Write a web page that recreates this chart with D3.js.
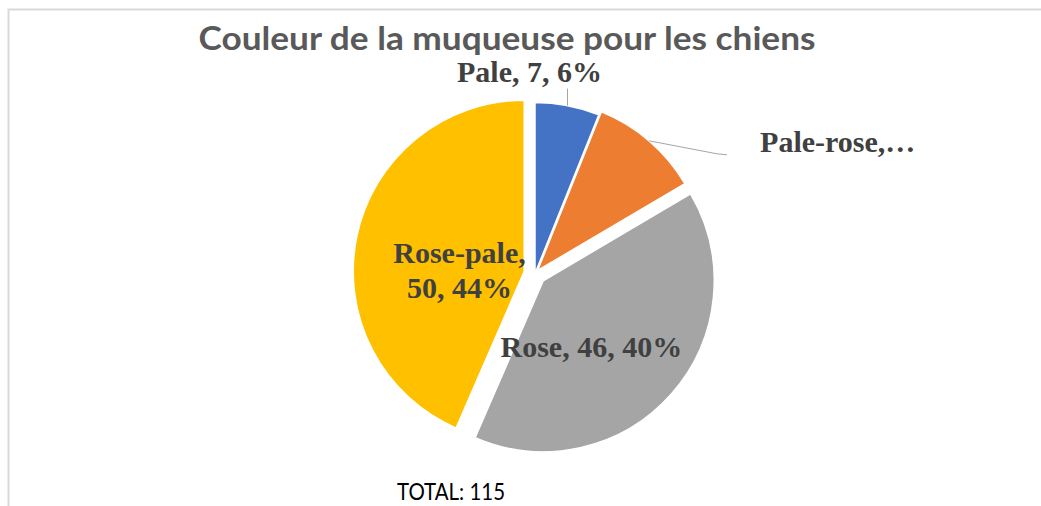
<!DOCTYPE html>
<html>
<head>
<meta charset="utf-8">
<script src="https://cdnjs.cloudflare.com/ajax/libs/d3/7.8.5/d3.min.js"></script>
<style>
    body { margin: 0; background: #fff; }
    #chart { width: 1041px; height: 506px; }
</style>
</head>
<body>
<div id="chart"></div>
<script>

// data
const categories = ["Pale", "Pale-rose", "Rose", "Rose-pale"];
const counts = [7, 12, 46, 50];
const colors = ["#4472C4", "#ED7D31", "#A5A5A5", "#FFC000"];
const chartTitle = "Couleur de la muqueuse pour les chiens";
const totalLabel = "TOTAL: 115";


class PieChart {

    constructor(parentElement) {
        this.parentElement = parentElement;
        this.initVis();
    }

    initVis() {
        let vis = this;

        vis.width = 1041;
        vis.height = 506;

        vis.svg = d3.select("#" + vis.parentElement).append("svg")
            .attr("width", vis.width)
            .attr("height", vis.height);

        // light frame of the chart area (cut at right / bottom)
        vis.svg.append("path")
            .attr("d", "M8.5,506 V9.5 H1041")
            .attr("fill", "none")
            .attr("stroke", "#d9d9d9")
            .attr("stroke-width", 2);

        vis.svg.append("text")
            .attr("x", 507)
            .attr("y", 50)
            .attr("text-anchor", "middle")
            .attr("textLength", 617)
            .attr("lengthAdjust", "spacingAndGlyphs")
            .style("font-family", "Lato, 'Open Sans', sans-serif")
            .style("font-weight", "bold")
            .style("font-size", "32px")
            .style("fill", "#595959")
            .text(chartTitle);

        vis.svg.append("text")
            .attr("x", 451)
            .attr("y", 500)
            .attr("text-anchor", "middle")
            .attr("textLength", 108)
            .attr("lengthAdjust", "spacingAndGlyphs")
            .style("font-family", "Lato, sans-serif")
            .style("font-size", "24px")
            .style("fill", "#000")
            .text(totalLabel);

        vis.cx = 535;
        vis.cy = 273.5;
        vis.radius = 171;
        // how far each slice is pulled out of the pie
        vis.explode = [0, 4, 11, 11];

        vis.wrangleData();
    }

    wrangleData() {
        let vis = this;
        let total = d3.sum(counts);

        // percentages rounded so they add up to 100 (largest remainder, like Excel)
        let raw = counts.map(v => v / total * 100);
        let pcts = raw.map(Math.floor);
        let left = 100 - d3.sum(pcts);
        d3.range(raw.length)
            .sort((a, b) => (raw[b] - pcts[b]) - (raw[a] - pcts[a]))
            .slice(0, left)
            .forEach(i => pcts[i] += 1);

        vis.displayData = categories.map((c, i) => ({
            name: c,
            value: counts[i],
            pct: pcts[i] + "%"
        }));
        vis.updateVis();
    }

    updateVis() {
        let vis = this;

        let pie = d3.pie().sort(null).value(d => d.value);
        let arcs = pie(vis.displayData);

        let arc = d3.arc().innerRadius(0).outerRadius(vis.radius);

        let offset = (d, i) => {
            let a = (d.startAngle + d.endAngle) / 2;
            return [Math.sin(a) * vis.explode[i], -Math.cos(a) * vis.explode[i]];
        };

        let g = vis.svg.append("g")
            .attr("transform", `translate(${vis.cx},${vis.cy})`);

        let slices = g.selectAll(".slice")
            .data(arcs)
            .enter()
            .append("g")
            .attr("class", "slice")
            .attr("transform", (d, i) => `translate(${offset(d, i)})`);

        slices.append("path")
            .attr("d", arc)
            .attr("fill", (d, i) => colors[i])
            .attr("stroke", "#fff")
            .attr("stroke-width", 1.5);

        let labelStyle = sel => sel
            .style("font-family", "'Liberation Serif', 'Times New Roman', serif")
            .style("font-weight", "bold")
            .style("font-size", "30px")
            .style("fill", "#404040");

        let edgePoint = d => {
            let a = (d.startAngle + d.endAngle) / 2;
            return [Math.sin(a) * vis.radius, -Math.cos(a) * vis.radius];
        };

        // Pale : label above, vertical leader
        let p0 = edgePoint(arcs[0]);
        let s0 = slices.filter((d, i) => i === 0);
        s0.append("path")
            .attr("d", d3.line()([p0, [p0[0], p0[1] - 17]]))
            .attr("stroke", "#a6a6a6")
            .attr("fill", "none");
        s0.append("text")
            .attr("x", p0[0] - 38)
            .attr("y", p0[1] - 24)
            .attr("text-anchor", "middle")
            .call(labelStyle)
            .text(d => `${d.data.name}, ${d.data.value}, ${d.data.pct}`);

        // Pale-rose : label to the right, truncated like in the sheet
        let p1 = edgePoint(arcs[1]);
        let s1 = slices.filter((d, i) => i === 1);
        s1.append("path")
            .attr("d", d3.line()([p1, [p1[0] + 68, p1[1] + 13], [p1[0] + 78, p1[1] + 14]]))
            .attr("stroke", "#a6a6a6")
            .attr("fill", "none");
        s1.append("text")
            .attr("x", p1[0] + 111)
            .attr("y", p1[1] + 11)
            .call(labelStyle)
            .text(d => `${d.data.name},\u2026`);

        // Rose : inside
        let c2 = arc.centroid(arcs[2]);
        slices.filter((d, i) => i === 2).append("text")
            .attr("x", c2[0] - 16)
            .attr("y", c2[1] + 20)
            .attr("text-anchor", "middle")
            .call(labelStyle)
            .text(d => `${d.data.name}, ${d.data.value}, ${d.data.pct}`);

        // Rose-pale : inside, two lines
        let c3 = arc.centroid(arcs[3]);
        let t3 = slices.filter((d, i) => i === 3).append("text")
            .attr("text-anchor", "middle")
            .call(labelStyle);
        t3.append("tspan")
            .attr("x", c3[0] + 19)
            .attr("y", c3[1] + 9)
            .text(d => `${d.data.name},`);
        t3.append("tspan")
            .attr("x", c3[0] + 19)
            .attr("dy", 35)
            .text(d => `${d.data.value}, ${d.data.pct}`);
    }
}

new PieChart("chart");

</script>
</body>
</html>
